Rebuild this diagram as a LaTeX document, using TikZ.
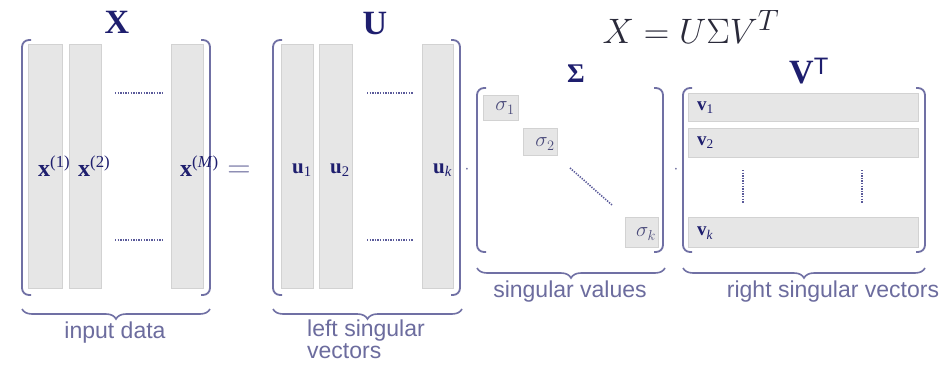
\documentclass[tikz,border=0pt]{standalone}
\usepackage{fontspec}
\usepackage{graphicx}
\setmainfont{Liberation Serif}
\newfontfamily\labfont{Liberation Sans}
\usetikzlibrary{decorations.pathreplacing}
\definecolor{brkc}{HTML}{7070A4}
\definecolor{lab}{HTML}{6C6C9E}
\definecolor{ttlc}{HTML}{1E1E6E}
\definecolor{boxfill}{HTML}{E6E6E6}
\definecolor{boxline}{HTML}{D2D2D2}
\definecolor{dotc}{HTML}{5A5A9A}
\definecolor{sigc}{HTML}{4A4A7A}
\definecolor{frmc}{HTML}{2A2A3A}
\begin{document}
\begin{tikzpicture}[x=1pt,y=-1pt,
  bar/.style={draw=boxline, fill=boxfill, line width=0.8pt, inner sep=0pt, outer sep=0pt, anchor=north west},
  bracketline/.style={draw=brkc, line width=1.8pt, rounded corners=7pt},
  ttl/.style={text=ttlc, font=\fontsize{34}{34}\selectfont\bfseries, inner sep=0pt},
  vlab/.style={text=ttlc, inner sep=0pt, anchor=west},
  captxt/.style={text=lab, font=\labfont\fontsize{23}{18}\selectfont, inner sep=0pt},
  bracedeco/.style={draw=brkc, line width=1.6pt, decorate, decoration={brace, amplitude=10pt, mirror}},
  hdots/.style={draw=dotc, line width=1.6pt, dash pattern=on 1.3pt off 1.3pt},
  siglab/.style={text=sigc, inner sep=0pt, font=\fontsize{20}{20}\selectfont},
]
\useasboundingbox[fill=white] (0,0) rectangle (944,380);

% ---------- X ----------
\node[ttl] (tX) at (117,22) {X};
\node[bar, minimum width=34pt, minimum height=244pt] (xc1) at (28,44) {};
\node[bar, minimum width=32pt, minimum height=244pt] (xc2) at (69,44) {};
\node[bar, minimum width=32pt, minimum height=244pt] (xc3) at (171,44) {};
\draw[bracketline] (31,40) -- (22,40) -- (22,295) -- (31,295);
\draw[bracketline] (201,40) -- (210,40) -- (210,295) -- (201,295);
\coordinate (xd1a) at (115,93); \coordinate (xd1b) at (162,93);
\coordinate (xd2a) at (115,240); \coordinate (xd2b) at (162,240);
\draw[hdots] (xd1a) -- (xd1b);
\draw[hdots] (xd2a) -- (xd2b);
\node[vlab, font=\fontsize{24}{24}\selectfont] (lx1) at (38,166) {\textbf{x}\textsuperscript{(1)}};
\node[vlab, font=\fontsize{24}{24}\selectfont] (lx2) at (78,166) {\textbf{x}\textsuperscript{(2)}};
\node[vlab, font=\fontsize{24}{24}\selectfont] (lxm) at (180,166) {\textbf{x}\textsuperscript{(\textit{M})}};
\coordinate (bxa) at (22,309); \coordinate (bxb) at (210,309);
\draw[bracedeco] (bxa) -- (bxb);
\node[captxt] (cX) at (115,333) {input data};

\node[text=lab, inner sep=0pt, font=\fontsize{24}{24}\selectfont] (eq) at (239,172) {\scalebox{1.3}{$=$}};

% ---------- U ----------
\node[ttl] (tU) at (375,24) {U};
\node[bar, minimum width=32pt, minimum height=244pt] (uc1) at (281,44) {};
\node[bar, minimum width=33pt, minimum height=244pt] (uc2) at (319,44) {};
\node[bar, minimum width=31pt, minimum height=244pt] (uc3) at (422,44) {};
\draw[bracketline] (282,40) -- (273,40) -- (273,295) -- (282,295);
\draw[bracketline] (451,40) -- (460,40) -- (460,295) -- (451,295);
\coordinate (ud1a) at (367,93); \coordinate (ud1b) at (413,93);
\coordinate (ud2a) at (367,240); \coordinate (ud2b) at (413,240);
\draw[hdots] (ud1a) -- (ud1b);
\draw[hdots] (ud2a) -- (ud2b);
\node[vlab, font=\fontsize{21}{21}\selectfont] (lu1) at (292,170) {\textbf{u}\textsubscript{1}};
\node[vlab, font=\fontsize{21}{21}\selectfont] (lu2) at (330,170) {\textbf{u}\textsubscript{2}};
\node[vlab, font=\fontsize{21}{21}\selectfont] (luk) at (433,170) {\textbf{u}\textsubscript{\textit{k}}};
\coordinate (bua) at (273,309); \coordinate (bub) at (462,309);
\draw[bracedeco] (bua) -- (bub);
\node[captxt, anchor=west] (cU1) at (307,331) {left singular};
\node[captxt, anchor=west] (cU2) at (307,351) {vectors};

\node[text=lab, inner sep=0pt, font=\fontsize{16}{16}\selectfont] (m1) at (467,170) {$\cdot$};

% ---------- Sigma ----------
\node[ttl, font=\fontsize{27}{27}\selectfont\bfseries] (tS) at (576,74) {Σ};
\draw[bracketline] (486,88) -- (477,88) -- (477,252) -- (486,252);
\draw[bracketline] (654,88) -- (663,88) -- (663,252) -- (654,252);
\node[bar, minimum width=35pt, minimum height=25pt] (s1) at (483,95) {};
\node[bar, minimum width=34pt, minimum height=27pt] (s2) at (523,128) {};
\node[bar, minimum width=33pt, minimum height=30pt] (sk) at (625,217) {};
\node[siglab] (ls1) at (505,108) {$\sigma_1$};
\node[siglab] (ls2) at (545,144) {$\sigma_2$};
\node[siglab] (lsk) at (646,234) {$\sigma_k$};
\coordinate (sda) at (570,168); \coordinate (sdb) at (612,205);
\draw[hdots] (sda) -- (sdb);
\coordinate (bsa) at (477,268); \coordinate (bsb) at (665,268);
\draw[bracedeco] (bsa) -- (bsb);
\node[captxt] (cS) at (570,292) {singular values};

\node[text=lab, inner sep=0pt, font=\fontsize{16}{16}\selectfont] (m2) at (676,170) {$\cdot$};

% ---------- V^T ----------
\node[ttl, anchor=west, font=\fontsize{34}{34}\selectfont\bfseries] (tV) at (789,71) {V\textsuperscript{\labfont\mdseries T}};
\draw[bracketline] (692,88) -- (683,88) -- (683,252) -- (692,252);
\draw[bracketline] (916,88) -- (925,88) -- (925,252) -- (916,252);
\node[bar, minimum width=230pt, minimum height=28pt] (v1) at (688,93) {};
\node[bar, minimum width=230pt, minimum height=29pt] (v2) at (688,128) {};
\node[bar, minimum width=230pt, minimum height=30pt] (vk) at (688,217) {};
\node[vlab, font=\fontsize{19}{19}\selectfont] (lv1) at (697,108) {\textbf{v}\textsubscript{1}};
\node[vlab, font=\fontsize{19}{19}\selectfont] (lv2) at (697,143) {\textbf{v}\textsubscript{2}};
\node[vlab, font=\fontsize{19}{19}\selectfont] (lvk) at (697,233) {\textbf{v}\textsubscript{\textit{k}}};
\coordinate (vd1a) at (743,170); \coordinate (vd1b) at (743,203);
\coordinate (vd2a) at (862,170); \coordinate (vd2b) at (862,203);
\draw[hdots] (vd1a) -- (vd1b);
\draw[hdots] (vd2a) -- (vd2b);
\coordinate (bva) at (683,268); \coordinate (bvb) at (925,268);
\draw[bracedeco] (bva) -- (bvb);
\node[captxt] (cV) at (833,292) {right singular vectors};

% ---------- formula ----------
\node[text=frmc, inner sep=0pt, font=\fontsize{24.88}{25}\selectfont] (frm) at (691,27) {\scalebox{1.42}{$X = U\Sigma V^{T}$}};
\end{tikzpicture}
\end{document}
